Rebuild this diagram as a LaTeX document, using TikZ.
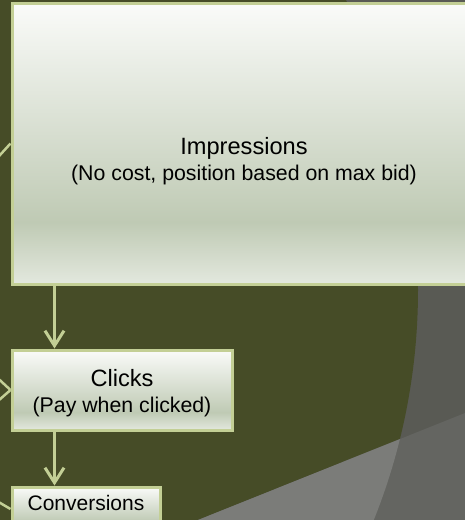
\documentclass[tikz,border=0pt]{standalone}
\usepackage{fontspec}
\setmainfont{Liberation Sans}
\usetikzlibrary{arrows.meta}
\definecolor{olive}{HTML}{464C27}
\definecolor{greya}{HTML}{595A54}
\definecolor{greyb}{HTML}{646561}
\definecolor{greyc}{HTML}{7B7C79}
\definecolor{edge}{HTML}{C3CF95}
\definecolor{boxtop}{HTML}{FAFBF9}
\definecolor{boxmid}{HTML}{BFCAB4}
\definecolor{boxlow}{HTML}{E3E8DE}
\pgfdeclareverticalshading{boxshade}{100bp}{color(0bp)=(boxlow); color(25bp)=(boxlow); color(36bp)=(boxmid); color(75bp)=(boxtop); color(100bp)=(boxtop)}

\begin{document}
\begin{tikzpicture}[x=1pt,y=-1pt,
  stage/.style={draw=edge,line width=3pt,shading=boxshade,inner sep=0pt},
  flow/.style={edge,line width=3pt,-{Straight Barb[length=15pt,width=19pt]}},
  feed/.style={edge,line width=2.5pt},
  small/.style={font=\fontsize{21.3}{26}\selectfont,align=center}]
\useasboundingbox (0,0) rectangle (465,520);
\clip (0,0) rectangle (465,520);
% backdrop
\fill[greya] (0,0) rectangle (465,520);
\fill[olive] (-200,290) circle (618);
\fill[greyb] (198,520) -- (465,413) -- (470,525) -- (190,525) -- cycle;
\begin{scope}
\clip (-200,290) circle (618);
\fill[greyc] (198,520) -- (465,413) -- (470,525) -- (190,525) -- cycle;
\end{scope}
% boxes
\node[stage,minimum width=464,minimum height=281] (imp) at (244,143.5){};
\node[stage,minimum width=220,minimum height=80] (clk) at (122,390){};
\node[stage,minimum width=148,minimum height=44] (conv) at (86,509){};
\node[small] (imptxt) at (244,161){{\fontsize{23.6}{27}\selectfont Impressions}\\(No cost, position based on max bid)};
\node[small] (clktxt) at (122,393){{\fontsize{23.6}{26}\selectfont Clicks}\\(Pay when clicked)};
\node[font=\fontsize{21}{25}\selectfont,anchor=base] (convtxt) at (86,510){Conversions};
% feeds from the left
\coordinate (fa) at (-10,166);
\coordinate (fb) at (-10,371);
\coordinate (fc) at (-10,408);
\coordinate (fd) at (-10,497);
\draw[feed] (fa)--(imp.west);\draw[feed] (fb)--(clk.west);\draw[feed] (fc)--(clk.west);\draw[feed] (fd)--(conv.west);
\draw[flow] ([xshift=44pt]imp.south west)--([xshift=44pt]clk.north west);
\draw[flow] ([xshift=44pt]clk.south west)--([xshift=44pt]conv.north west);
\end{tikzpicture}
\end{document}
